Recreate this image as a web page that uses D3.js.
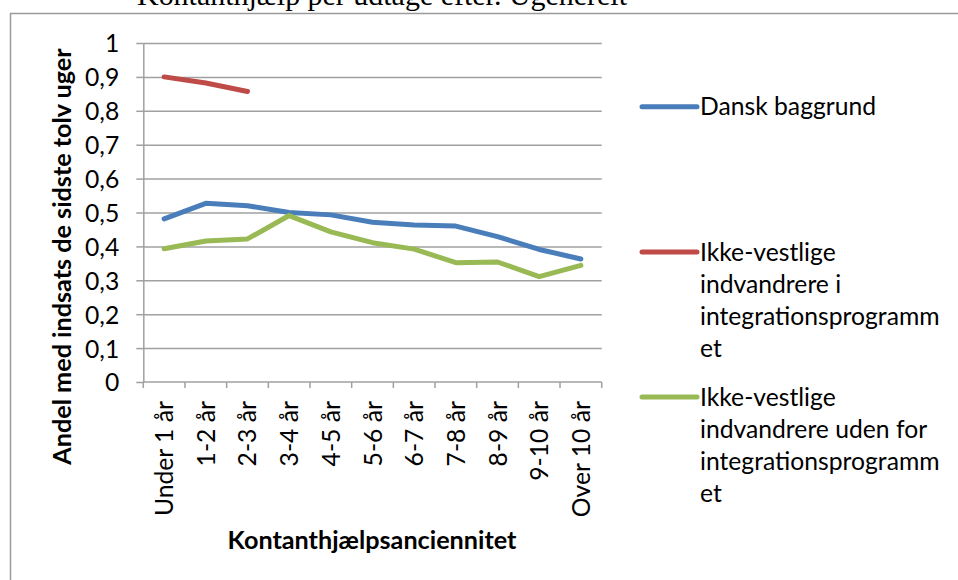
<!DOCTYPE html>
<html><head><meta charset="utf-8">
<script src="https://cdn.jsdelivr.net/npm/d3@7"></script>
<style>
body{margin:0;background:#fff;overflow:hidden}
svg{display:block}
text{font-family:Lato,"Open Sans",sans-serif;fill:#000}
</style>
</head><body>
<svg id="c" width="958" height="580"></svg>
<script>
// ---- data ----
const categories = ["Under 1 år","1-2 år","2-3 år","3-4 år","4-5 år","5-6 år","6-7 år","7-8 år","8-9 år","9-10 år","Over 10 år"];
const danskBaggrund = [0.481,0.527,0.520,0.500,0.493,0.471,0.463,0.460,0.429,0.391,0.363];
const ikkeVestligeI = [0.900,0.882,0.857];
const ikkeVestligeUden = [0.393,0.416,0.422,0.491,0.443,0.411,0.392,0.352,0.354,0.311,0.344];
const yTicks = [0,0.1,0.2,0.3,0.4,0.5,0.6,0.7,0.8,0.9,1];
const seriesNames = ["Dansk baggrund",
  ["Ikke-vestlige","indvandrere i","integrationsprogramm","et"],
  ["Ikke-vestlige","indvandrere uden for","integrationsprogramm","et"]];
const yTitle = "Andel med indsats de sidste tolv uger";
const xTitle = "Kontanthjælpsanciennitet";
const captionText = "Kontanthjælp per udtage efter. Ugenerelt";

// ---- layout ----
const svg = d3.select("#c");
const colors = ["#4A7EBB","#BE4B48","#98B954"];
const gridColor = "#A0A0A0";
const FS = 24.7, FSB = 25.2;
const plot = {left:143.3, right:601.7, top:43, bottom:382};

const x = d3.scaleBand().domain(categories).range([plot.left, plot.right]);
const y = d3.scaleLinear().domain([0,1]).range([plot.bottom, plot.top]);
const bw = x.bandwidth();
const cx = c => x(c) + bw/2;

// caption (cut off at top, as in the source page) and chart border
svg.append("text").attr("x",137).attr("y",5)
  .attr("textLength",490).attr("lengthAdjust","spacingAndGlyphs")
  .style("font-family","'Liberation Serif','Times New Roman',serif")
  .style("font-size","29px").text(captionText);
svg.append("path").attr("d","M10.5,580 V13.5 H958")
  .attr("fill","none").attr("stroke","#9A9A9A").attr("stroke-width",1.5);

// gridlines
const grid = svg.append("g").attr("transform",`translate(${plot.left},0)`)
  .call(d3.axisLeft(y).tickValues(yTicks.filter(d=>d>0)).tickSize(-(plot.right-plot.left)).tickFormat(""));
grid.select(".domain").remove();
grid.selectAll("line").attr("stroke",gridColor).attr("stroke-width",1.5);

// y axis
const loc = d3.formatLocale({decimal:",",thousands:".",grouping:[3],currency:["","kr"]});
const fmt = loc.format("~g");
const ya = svg.append("g").attr("transform",`translate(${plot.left},0)`)
  .call(d3.axisLeft(y).tickValues(yTicks).tickSize(7).tickSizeOuter(0).tickPadding(17).tickFormat(fmt));
ya.select(".domain").attr("stroke",gridColor).attr("stroke-width",1.5);
ya.selectAll("line").attr("stroke",gridColor).attr("stroke-width",1.5);
ya.selectAll("text").style("font-size",FS+"px").style("font-family","Lato").attr("dy","0.36em");

// x axis
const xa = svg.append("g").attr("transform",`translate(0,${plot.bottom})`);
xa.append("line").attr("x1",plot.left).attr("x2",plot.right).attr("stroke",gridColor).attr("stroke-width",1.5);
const bounds = categories.map(c=>x(c)).concat([x(categories[categories.length-1])+bw]);
xa.selectAll("line.tk").data(bounds).join("line").attr("class","tk")
  .attr("x1",d=>d).attr("x2",d=>d).attr("y1",0).attr("y2",6)
  .attr("stroke",gridColor).attr("stroke-width",1.5);
xa.selectAll("text").data(categories).join("text")
  .attr("transform",d=>`translate(${cx(d)+9},19) rotate(-90)`)
  .attr("text-anchor","end").style("font-size",FS+"px").text(d=>d);

// series lines
const line = d3.line().x((d,i)=>cx(categories[i])).y(d=>y(d));
[danskBaggrund, ikkeVestligeI, ikkeVestligeUden].forEach((s,k)=>{
  svg.append("path").datum(s).attr("d",line).attr("fill","none")
    .attr("stroke",colors[k]).attr("stroke-width",5).attr("stroke-linecap","round").attr("stroke-linejoin","round");
});

// axis titles
svg.append("text").attr("transform","translate(71,256.5) rotate(-90)")
  .attr("text-anchor","middle").style("font-size",FSB+"px").style("font-weight","bold").text(yTitle);
svg.append("text").attr("x",372).attr("y",549)
  .attr("text-anchor","middle").style("font-size",FSB+"px").style("font-weight","bold").text(xTitle);

// legend
const legY = [106.7, 252, 397];
seriesNames.forEach((nm,k)=>{
  const g = svg.append("g").attr("transform",`translate(0,${legY[k]})`);
  g.append("line").attr("x1",642).attr("x2",697).attr("stroke",colors[k])
    .attr("stroke-width",5).attr("stroke-linecap","round");
  const lines = Array.isArray(nm)?nm:[nm];
  const t = g.append("text").attr("x",700).attr("y",8.5).style("font-size",FS+"px");
  t.selectAll("tspan").data(lines).join("tspan").attr("x",700).attr("dy",(d,i)=>i?32.3:0).text(d=>d);
});
</script>
</body></html>
